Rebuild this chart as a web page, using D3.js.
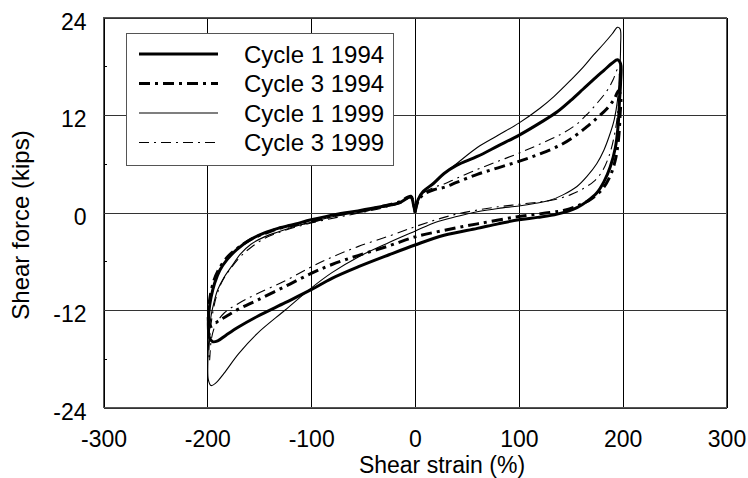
<!DOCTYPE html>
<html>
<head>
<meta charset="utf-8">
<script src="https://cdn.jsdelivr.net/npm/d3@7"></script>
<style>
  html, body { margin: 0; padding: 0; background: #fff; }
  svg { display: block; }
  text { font-family: "Liberation Sans", Arial, Helvetica, sans-serif; fill: #000; }
</style>
</head>
<body>
<svg id="chart" width="748" height="478"></svg>
<script>
// ---- Data ----
const xTicks = [-300, -200, -100, 0, 100, 200, 300];
const yTicks = [-24, -12, 0, 12, 24];
const yMinorTicks = [-18, -6, 6, 18];
const xTitle = "Shear strain (%)";
const yTitle = "Shear force (kips)";
const seriesNames = ["Cycle 1 1994", "Cycle 3 1994", "Cycle 1 1999", "Cycle 3 1999"];

// Cycle 1 1994
const strainC1y94 = [0,3,8,18,28,40,60,80,100,120,137,150,162,174,182,190,195,198,198,197,195.5,193,188,182,175,166,156,137,118,100,80,60,28,0,-25,-55,-80,-100,-125,-152,-170,-182,-190,-195,-198,-199,-198.5,-196.5,-193,-188,-181,-172,-158,-145,-132,-115,-100,-75,-55,-33,-15,-4,-1.5,0];
const forceC1y94  = [0,1.6,2.6,3.6,4.8,5.8,6.9,8.2,9.5,11.0,12.4,13.8,15.2,16.6,17.5,18.4,18.8,18.3,16,13.8,10.5,8,5.6,3.8,2.4,1.4,0.6,-0.2,-0.6,-0.9,-1.4,-1.95,-2.8,-4,-5.2,-6.7,-8.1,-9.5,-11.1,-12.8,-14.1,-15.1,-15.8,-15.9,-15.4,-14,-12.2,-10.5,-8.7,-7.1,-5.8,-4.6,-3.3,-2.5,-1.95,-1.4,-0.9,-0.2,0.2,0.7,1.2,1.9,1.0,0];

// Cycle 3 1994
const strainC3y94 = [0,3,8,18,28,40,60,80,100,120,140,155,165,175,185,192,196,198,197.5,196,193,188,180,170,160,145,130,100,60,28,0,-25,-55,-80,-100,-125,-152,-170,-182,-190,-196,-198.5,-199,-197.5,-194,-189,-180,-170,-158,-145,-132,-115,-100,-75,-55,-33,-15,-4,-1.5,0];
const forceC3y94  = [0,1.4,2.2,2.8,3.1,3.7,4.7,5.5,6.3,7.2,8.3,9.5,10.5,11.6,12.8,14,15,14.5,12,9,6.5,4.5,2.8,1.7,1.0,0.3,0,-0.5,-1.4,-2.2,-3,-4.1,-5.3,-6.4,-7.5,-9.1,-10.8,-11.9,-12.8,-13.4,-14,-13.6,-12.5,-10.5,-8.5,-7,-5.4,-4.3,-3.3,-2.6,-2,-1.5,-1.1,-0.3,0.1,0.7,1.3,2.0,1.1,0];

// Cycle 1 1999
const strainC1y99 = [0,3,8,18,28,40,60,80,100,120,134,150,162,172,182,190,195,197.5,198,197,195,192,188,182,175,166,156,143,130,115,100,80,60,40,20,0,-25,-55,-80,-100,-125,-152,-170,-184,-192,-196.5,-199,-199.5,-198.5,-196.5,-193.5,-190,-184,-177,-168,-158,-145,-132,-115,-100,-75,-55,-33,-15,-4,-1.5,0];
const forceC1y99  = [0,1.6,2.6,3.6,4.8,6.0,8.0,9.5,11,12.8,14.3,16.3,17.9,19.4,20.8,22,22.8,22.6,20.5,17,13.8,11.5,9.75,7.7,6,4.5,3.2,2.2,1.5,1.1,0.8,0.5,0.1,-0.5,-1.2,-2.3,-3.7,-5.5,-7.4,-9.3,-12,-14.9,-17.4,-19.8,-21,-21.3,-20.6,-18.5,-15.5,-12.8,-11,-9.5,-8,-6.7,-5.1,-3.9,-3,-2.4,-1.7,-1.2,-0.4,0,0.6,1.2,1.9,1.0,0];

// Cycle 3 1999
const strainC3y99 = [0,3,8,18,28,40,60,80,100,120,140,155,165,175,185,191,195,196.5,196.5,195,192,187,180,172,160,150,135,120,100,80,60,40,20,0,-25,-55,-80,-100,-125,-152,-170,-184,-192,-196,-198,-198.5,-197.5,-195,-191,-185,-177,-168,-158,-145,-132,-115,-100,-75,-55,-33,-15,-4,-1.5,0];
const forceC3y99  = [0,1.5,2.4,3.1,3.5,4.2,5.3,6.3,7.3,8.4,9.6,10.8,12,13.4,15,16.4,17.6,17.2,15,12,9.5,7,5,3.8,2.8,2.2,1.6,1.3,1.0,0.7,0.3,-0.2,-0.9,-1.75,-2.9,-4.2,-5.5,-6.7,-8.4,-10,-11.2,-12.4,-13.8,-15.5,-18.3,-17.5,-15,-12.5,-10.2,-8.3,-6.8,-5.4,-4.3,-3.2,-2.5,-1.8,-1.3,-0.6,-0.1,0.5,1.1,1.8,1.0,0];

// ---- Build series table ----
const series = [
  { name: seriesNames[2], xs: strainC1y99, ys: forceC1y99, width: 1.1, dash: null },
  { name: seriesNames[3], xs: strainC3y99, ys: forceC3y99, width: 1.1, dash: "10,5,2,5" },
  { name: seriesNames[1], xs: strainC3y94, ys: forceC3y94, width: 3, dash: "11,5,3,5" },
  { name: seriesNames[0], xs: strainC1y94, ys: forceC1y94, width: 3, dash: null }
];
const legendOrder = [3, 2, 0, 1];

// ---- Layout ----
const svg = d3.select("#chart");
const L = 103.5, R = 726.5, T = 17.5, B = 407.5;

const x = d3.scaleLinear().domain([-300, 300]).range([L, R]);
const y = d3.scaleLinear().domain([-24, 24]).range([B, T]);
const fmt = d => String(d);

svg.append("rect").attr("width", 748).attr("height", 478).attr("fill", "#fff");

// Grid
const grid = svg.append("g").attr("stroke", "#000").attr("stroke-width", 1).attr("shape-rendering", "crispEdges");
grid.selectAll("line.v").data(xTicks).join("line")
  .attr("class", "v")
  .attr("x1", d => Math.round(x(d)) + 0.5).attr("x2", d => Math.round(x(d)) + 0.5)
  .attr("y1", T).attr("y2", B);
grid.selectAll("line.h").data(yTicks).join("line")
  .attr("class", "h")
  .attr("stroke", "#333")
  .attr("x1", L).attr("x2", R)
  .attr("y1", d => Math.round(y(d)) + 0.5).attr("y2", d => Math.round(y(d)) + 0.5);
// minor ticks on the left axis (inside)
grid.selectAll("line.m").data(yMinorTicks).join("line")
  .attr("class", "m")
  .attr("x1", L).attr("x2", L + 3)
  .attr("y1", d => Math.round(y(d)) + 0.5).attr("y2", d => Math.round(y(d)) + 0.5);

// Axes (labels only)
const xAxis = svg.append("g").attr("transform", `translate(0,${B})`)
  .call(d3.axisBottom(x).tickValues(xTicks).tickSize(0).tickFormat(fmt));
xAxis.select(".domain").remove();
xAxis.selectAll("text")
  .attr("y", 39.5).attr("dy", 0)
  .style("font-size", "23px").style("font-family", "'Liberation Sans', Arial, sans-serif").attr("fill", "#000");

const yAxis = svg.append("g").attr("transform", `translate(${L},0)`)
  .call(d3.axisLeft(y).tickValues(yTicks).tickSize(0).tickFormat(fmt));
yAxis.select(".domain").remove();
yAxis.selectAll("text")
  .attr("x", -17).attr("dy", 11.5)
  .style("font-size", "23px").style("font-family", "'Liberation Sans', Arial, sans-serif").attr("fill", "#000");

// Titles
svg.append("text").attr("x", 442).attr("y", 473).attr("text-anchor", "middle")
  .style("font-size", "23px").text(xTitle);
svg.append("text").attr("transform", "translate(29,225) rotate(-90)").attr("text-anchor", "middle")
  .style("font-size", "24px").text(yTitle);

// Curves
const line = d3.line()
  .x(d => x(d[0])).y(d => y(d[1]))
  .curve(d3.curveCatmullRom.alpha(0.5));

const plot = svg.append("g");
series.forEach(s => {
  const pts = s.xs.map((v, i) => [v, s.ys[i]]);
  plot.append("path")
    .attr("d", line(pts))
    .attr("fill", "none")
    .attr("stroke", "#000")
    .attr("stroke-width", s.width)
    .attr("stroke-linejoin", "round")
    .attr("stroke-dasharray", s.dash);
});

// Frame
svg.append("rect").attr("x", L).attr("y", T).attr("width", R - L).attr("height", B - T)
  .attr("fill", "none").attr("stroke", "#555").attr("stroke-width", 1).attr("shape-rendering", "crispEdges");

// Legend
const lg = svg.append("g");
lg.append("rect").attr("x", 126.5).attr("y", 33.5).attr("width", 267).attr("height", 132)
  .attr("fill", "#fff").attr("stroke", "#555").attr("stroke-width", 1).attr("shape-rendering", "crispEdges");
legendOrder.forEach((si, i) => {
  const s = series[si];
  const yy = 54 + i * 29.5;
  lg.append("line").attr("x1", 139).attr("x2", 218).attr("y1", yy).attr("y2", yy)
    .attr("stroke", "#000").attr("stroke-width", s.width).attr("stroke-dasharray", s.dash);
  lg.append("text").attr("x", 244).attr("y", yy + 8.7)
    .style("font-size", "24px").text(s.name);
});
</script>
</body>
</html>
